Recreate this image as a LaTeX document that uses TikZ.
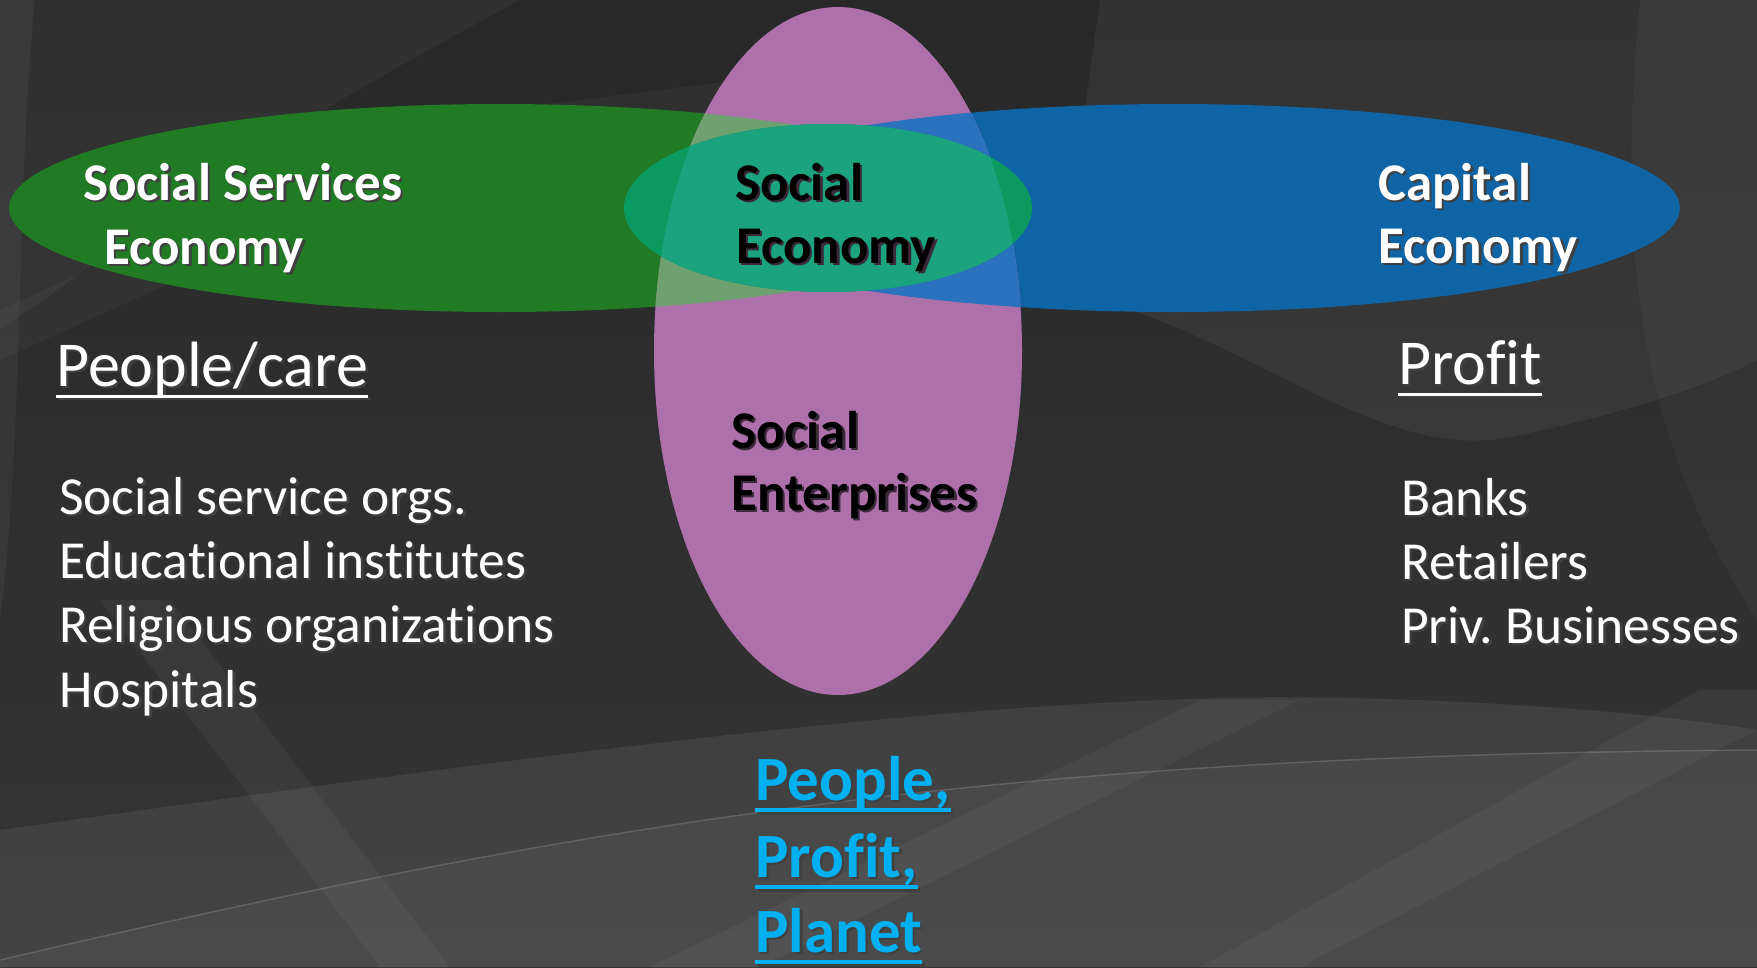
\documentclass[tikz,border=0pt]{standalone}
\usepackage{fontspec}
\setmainfont{Carlito}[Ligatures={NoCommon,NoContextual}]
\usepackage{tikz}
\usetikzlibrary{calc}
\frenchspacing
\definecolor{bgtop}{HTML}{282828}
\definecolor{bgbot}{HTML}{353535}
\definecolor{ssgreen}{HTML}{217A24}
\definecolor{capblue}{HTML}{0E64A5}
\definecolor{entpink}{HTML}{AD70AB}
\definecolor{mixgreen}{HTML}{6FA06F}
\definecolor{mixblue}{HTML}{2A72BE}
\definecolor{tealin}{HTML}{1AA37C}
\definecolor{tealout}{HTML}{0A9A60}
\definecolor{pppblue}{HTML}{00B0F0}
\definecolor{darkshd}{HTML}{3A2A3A}
\newsavebox{\ulbox}
% text with a dark drop shadow
\newcommand{\shd}[2][black!75]{\rlap{\hspace{2.5pt}\raisebox{-2.5pt}{\color{#1}#2}}#2}
% underline at a fixed depth
\newcommand{\ulin}[3]{\sbox{\ulbox}{#3}\rlap{\rule[-#1]{\wd\ulbox}{#2}}\usebox{\ulbox}}
\tikzset{
  head/.style={anchor=base west, inner sep=0pt, font=\fontsize{53}{60}\selectfont\bfseries, text=white},
  headdark/.style={head, text=black},
  sub/.style={anchor=base west, inner sep=0pt, font=\fontsize{64}{70}\selectfont, text=white},
  item/.style={anchor=base west, inner sep=0pt, font=\fontsize{53.5}{60}\selectfont, text=white},
  ppp/.style={anchor=base west, inner sep=0pt, font=\fontsize{63}{70}\selectfont\bfseries, text=pppblue},
  band/.style={fill=white, draw=none}
}
\begin{document}
\begin{tikzpicture}[x=1pt,y=-1pt]
        \useasboundingbox (0,0) rectangle (1757,967);
        \clip (0,0) rectangle (1757,967);
        % background
        \shade[top color=bgtop, bottom color=bgbot] (0,0) rectangle (1757,967);
        \fill[band, opacity=0.04] (0,0) -- (520,0) .. controls (300,120) .. (0,330) -- cycle;
        \fill[band, opacity=0.04] (0,0) -- (35,0) .. controls (15,200) and (25,420) .. (0,620) -- cycle;
        \fill[band, opacity=0.03] (0,310) -- (420,120) -- (900,60) -- (900,110) -- (420,170) -- (0,360) -- cycle;
        \fill[band, opacity=0.05] (1060,290) .. controls (1250,330) and (1380,470) .. (1520,435) .. controls (1640,410) and (1720,380) .. (1757,360) -- (1757,0) -- (1100,0) -- cycle;
        \fill[band, opacity=0.03] (1640,0) -- (1757,0) -- (1757,620) .. controls (1660,470) and (1610,300) .. (1640,0) -- cycle;
        \fill[band, opacity=0.07] (0,830) .. controls (500,760) and (1000,690) .. (1345,698) .. controls (1550,702) and (1700,720) .. (1757,730) -- (1757,967) -- (0,967) -- cycle;
        \fill[band, opacity=0.04] (0,967) -- (0,960) .. controls (600,820) and (1000,755) .. (1757,750) -- (1757,967) -- cycle;
        \fill[band, opacity=0.04] (100,600) -- (170,600) -- (450,967) -- (380,967) -- cycle;
        \fill[band, opacity=0.04] (1200,700) -- (1300,700) -- (760,967) -- (650,967) -- cycle;
        \fill[band, opacity=0.04] (1700,690) -- (1757,690) -- (1757,730) -- (1300,967) -- (1200,967) -- cycle;
        \draw[white, opacity=0.15, line width=1.5pt] (0,960) .. controls (600,820) and (1000,755) .. (1757,750);
        % ellipses
        \fill[ssgreen] (500,208) ellipse [x radius=491pt, y radius=104pt];
        \fill[capblue] (1174,208) ellipse [x radius=506pt, y radius=104pt];
        \fill[entpink] (838,351) ellipse [x radius=184pt, y radius=344pt];
        \begin{scope}
          \clip (838,351) ellipse [x radius=184pt, y radius=344pt];
          \fill[mixgreen] (500,208) ellipse [x radius=491pt, y radius=104pt];
          \fill[mixblue] (1174,208) ellipse [x radius=506pt, y radius=104pt];
        \end{scope}
        \fill[tealout] (828,208) ellipse [x radius=204pt, y radius=84pt];
        \begin{scope}
          \clip (838,351) ellipse [x radius=184pt, y radius=344pt];
          \fill[tealin] (828,208) ellipse [x radius=204pt, y radius=84pt];
        \end{scope}
        % headings
        \node[head] (ssTop) at (83,200) {\shd{Social Services}};
        \node[head] (ssBot) at (104,264) {\shd{Economy}};
        \node[headdark] (seTop) at (735,200) {\shd[darkshd]{Social}};
        \node[headdark] (seBot) at (736,263) {\shd[darkshd]{Economy}};
        \node[head] (ceTop) at (1378,200) {\shd{Capital}};
        \node[head] (ceBot) at (1378,263) {\shd{Economy}};
        \node[headdark] (entTop) at (731,448) {\shd[darkshd]{Social}};
        \node[headdark] (entBot) at (731,510) {\shd[darkshd]{Enterprises}};
        % left column
        \node[sub] (care) at (56,386) {\shd{\ulin{11.5pt}{3pt}{People/care}}};
        \node[item] (careA) at (59,514) {\shd{Social service orgs.}};
        \node[item] (careB) at (59,578) {\shd{Educational institutes}};
        \node[item] (careC) at (59,642) {\shd{Religious organizations}};
        \node[item] (careD) at (59,707) {\shd{Hospitals}};
        % right column
        \node[sub] (profit) at (1398,384) {\shd{\ulin{11.5pt}{3pt}{Profit}}};
        \node[item] (profitA) at (1401,515) {\shd{Banks}};
        \node[item] (profitB) at (1401,579) {\shd{Retailers}};
        \node[item] (profitC) at (1401,643) {\shd{Priv. Businesses}};
        % bottom
        \node[ppp] (pppA) at (755,800) {\shd{\ulin{12pt}{4pt}{People,}}};
        \node[ppp] (pppB) at (755,877) {\shd{\ulin{12pt}{4pt}{Profit,}}};
        \node[ppp] (pppC) at (755,952) {\shd{\ulin{12pt}{4pt}{Planet}}};
    \end{tikzpicture}
\end{document}
